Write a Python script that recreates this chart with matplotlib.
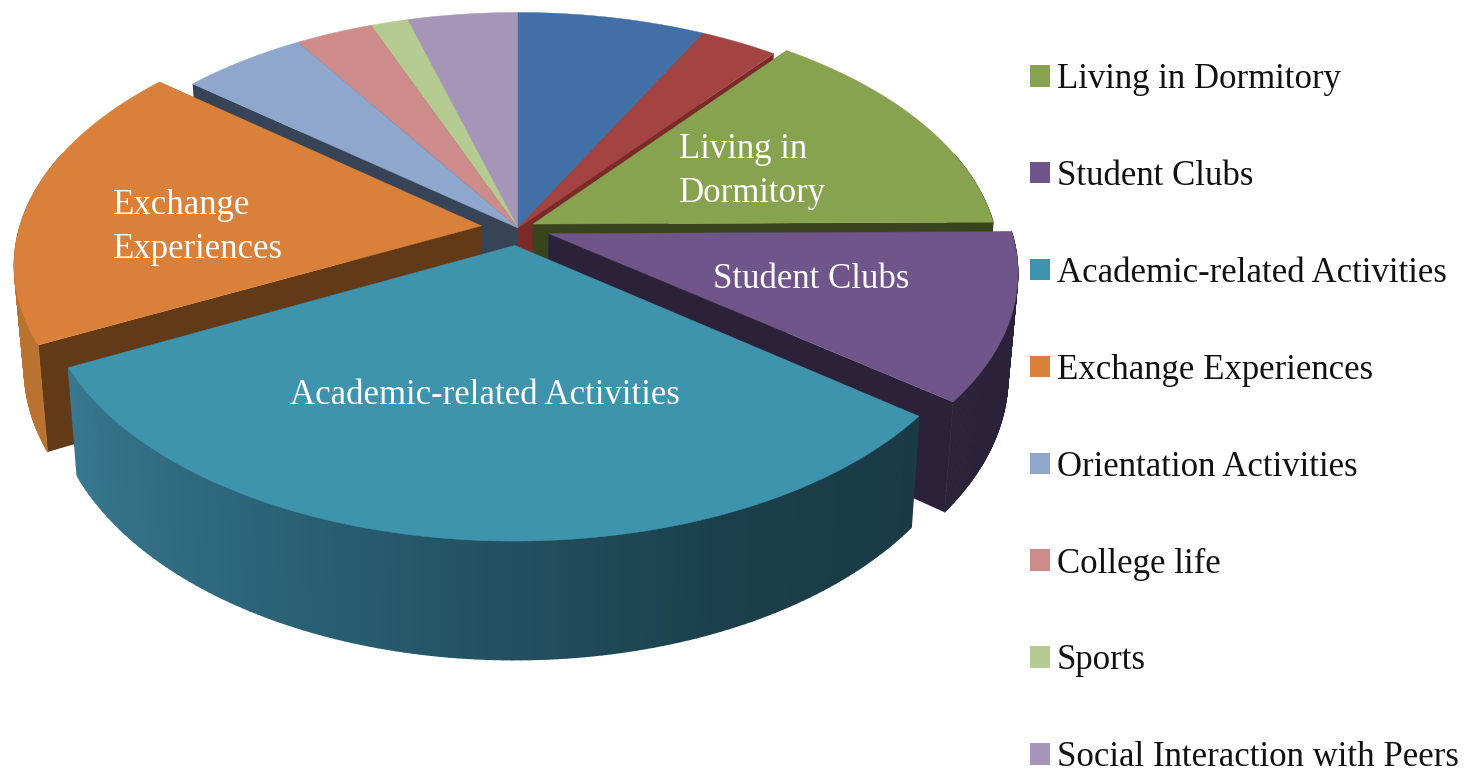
import numpy as np
import matplotlib
matplotlib.use('Agg')
import matplotlib.pyplot as plt
from matplotlib.colors import to_rgb
from matplotlib.collections import PolyCollection
from matplotlib.patches import Patch

# clockwise from twelve o'clock
categories = ['', '', 'Living in Dormitory', 'Student Clubs', 'Academic-related Activities',
              'Exchange Experiences', 'Orientation Activities', 'College life', 'Sports',
              'Social Interaction with Peers']
values = [7.5, 3.1, 14.3, 10.7, 32.0, 18.5, 5.0, 3.1, 1.5, 4.4]
explode = [0, 0, 0.036, 0.07, 0.07, 0.08, 0, 0, 0, 0]
colors = ['#4270a6', '#a44442', '#87a34f', '#6f5589', '#3f94ad',
          '#d9813a', '#8fa6cd', '#cd8b8a', '#b6cb91', '#a495b9']
side_colors = ['#2d4d73', '#7a2f2e', '#39441e', '#2b2138', None,
               '#b9722f', '#374356', '#8c5f5e', '#7c8a63', '#70667e']
cut_colors = ['#2d4d73', '#7a2a2a', '#39441e', '#2b2138', '#1a3a46',
              '#633a17', '#374356', '#8c5f5e', '#7c8a63', '#70667e']
teal_side = ['#1a3a46', '#1b3f4c', '#2b6478', '#39788f']

label_text = [('Living in', 679, 150), ('Dormitory', 679, 194), ('Student Clubs', 713, 279),
              ('Academic-related Activities', 290, 396), ('Exchange', 113, 205),
              ('Experiences', 113, 250)]

# back slices first, the front ones paint over them
draw_order = [9, 8, 7, 6, 0, 1, 2, 5, 3, 4]

cx, cy = 518, 228
a, b = 462, 247
k = 0.146
depth = 100


def project(x, y, z=0.0):
    w = 1 + k * y
    scale = 1 / (1 + 0.02 * z)
    return cx + a * x / w * scale, cy - b * y / w + depth * z / w


fig = plt.figure(figsize=(14.7, 7.76), dpi=100)
ax = fig.add_axes([0, 0, 1, 1])
ax.set_xlim(0, 1470)
ax.set_ylim(776, 0)
ax.axis('off')

edges = np.concatenate([[0], np.cumsum(values)]) / np.sum(values) * 2 * np.pi
z = 1
for i in draw_order:
    t = np.linspace(edges[i], edges[i + 1], 120)
    mid = (edges[i] + edges[i + 1]) / 2
    ox, oy = explode[i] * np.sin(mid), explode[i] * np.cos(mid)
    xs, ys = ox + np.sin(t), oy + np.cos(t)

    # cut faces going into the pie
    for j in [0, -1]:
        p0 = project(ox, oy, 0)
        p1 = project(xs[j], ys[j], 0)
        p2 = project(xs[j], ys[j], 1)
        p3 = project(ox, oy, 1)
        ax.fill([p0[0], p1[0], p2[0], p3[0]], [p0[1], p1[1], p2[1], p3[1]],
                color=cut_colors[i], lw=0, zorder=z)
    z += 1

    # outer wall, one strip per step so it can carry a gradient
    tx, ty = project(xs, ys, 0)
    bx, by = project(xs, ys, 1)
    if side_colors[i] is None:
        stops = np.array([to_rgb(c) for c in teal_side])
        pos = np.linspace(0, 1, len(t) - 1)
        where = [0, 0.25, 0.7, 1]
        strip_colors = np.column_stack([np.interp(pos, where, stops[:, c]) for c in range(3)])
        wall_lw = 1.2
    else:
        strip_colors = np.array([to_rgb(side_colors[i])] * (len(t) - 1))
        wall_lw = 0.6
    # strips on the far side sit behind the top face, skip them so no edge shows
    keep = [n for n in range(len(t) - 1) if np.cos(t[n]) < 0.3]
    strips = [[(tx[n], ty[n]), (tx[n + 1], ty[n + 1]), (bx[n + 1], by[n + 1]), (bx[n], by[n])]
              for n in keep]
    if strips:
        ax.add_collection(PolyCollection(strips, facecolors=strip_colors[keep],
                                         edgecolors=strip_colors[keep],
                                         linewidths=wall_lw, zorder=z))
    z += 1

    # top face
    px, py = project(np.r_[ox, xs], np.r_[oy, ys], 0)
    ax.fill(px, py, color=colors[i], lw=0.3, zorder=z)
    z += 1

for text, x, y in label_text:
    ax.text(x, y, text, color='white', fontsize=25, family='Liberation Serif',
            ha='left', va='center', zorder=z)

handles = [Patch(facecolor=colors[i], edgecolor='none', label=categories[i])
           for i in range(len(categories)) if categories[i]]
ax.legend(handles=handles, loc='upper left', bbox_to_anchor=(1030 / 1470, 1 - 63 / 776),
          bbox_transform=fig.transFigure, frameon=False, borderpad=0, borderaxespad=0,
          prop={'family': 'Liberation Serif', 'size': 25}, labelspacing=1.84,
          handlelength=0.58, handleheight=0.58, handletextpad=0.2, labelcolor='#111111')

fig.savefig('out.png', dpi=100)
